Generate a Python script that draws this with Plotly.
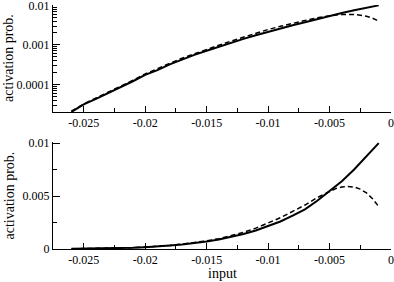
import plotly.graph_objects as go

# data
x_solid = [-0.026, -0.025, -0.024, -0.023, -0.022, -0.021, -0.020, -0.019, -0.018,
           -0.017, -0.016, -0.015, -0.014, -0.013, -0.012, -0.011, -0.010, -0.009,
           -0.008, -0.007, -0.006, -0.005, -0.004, -0.003, -0.002, -0.001]
y_solid = [2.0e-5, 3.1e-5, 4.3e-5, 6.0e-5, 8.3e-5, 1.2e-4, 1.74e-4, 2.3e-4, 3.2e-4,
           4.3e-4, 5.6e-4, 7.1e-4, 9.0e-4, 1.15e-3, 1.42e-3, 1.75e-3, 2.15e-3, 2.6e-3,
           3.15e-3, 3.75e-3, 4.55e-3, 5.45e-3, 6.4e-3, 7.5e-3, 8.7e-3, 1.0e-2]

x_dashed = [-0.026, -0.025, -0.024, -0.023, -0.022, -0.021, -0.020, -0.019, -0.018,
            -0.017, -0.016, -0.015, -0.014, -0.013, -0.012, -0.011, -0.010, -0.009,
            -0.008, -0.007, -0.006, -0.005, -0.0045, -0.004, -0.0035, -0.003, -0.0025,
            -0.002, -0.0015, -0.001]
y_dashed = [2.1e-5, 3.2e-5, 4.5e-5, 6.3e-5, 8.8e-5, 1.27e-4, 1.83e-4, 2.45e-4, 3.4e-4,
            4.6e-4, 6.0e-4, 7.7e-4, 9.8e-4, 1.25e-3, 1.57e-3, 1.97e-3, 2.45e-3, 2.95e-3,
            3.55e-3, 4.15e-3, 4.85e-3, 5.45e-3, 5.7e-3, 5.85e-3, 5.9e-3, 5.85e-3, 5.65e-3,
            5.3e-3, 4.75e-3, 4.0e-3]

x_tickvals = [-0.025, -0.02, -0.015, -0.01, -0.005, 0]
x_ticktext = ["-0.025", "-0.02", "-0.015", "-0.01", "-0.005", "0"]
log_tickvals = [0.0001, 0.001, 0.01]
log_ticktext = ["0.0001", "0.001", "0.01"]
lin_tickvals = [0, 0.005, 0.01]
lin_ticktext = ["0", "0.005", "0.01"]

font = "Liberation Serif"
W, H = 394, 282
l, r, t, b = 53, 3, 5, 33
pw = W - l - r
ph = H - t - b

def py(p):
    return (H - b - p) / ph

def px(p):
    return (p - l) / pw

fig = go.Figure()
for ax in ["", "2"]:
    fig.add_trace(go.Scatter(x=x_solid, y=y_solid, mode="lines",
                             line=dict(color="black", width=2),
                             xaxis="x" + ax, yaxis="y" + ax, showlegend=False))
    fig.add_trace(go.Scatter(x=x_dashed, y=y_dashed, mode="lines",
                             line=dict(color="black", width=1.5, dash="5px,3px"),
                             xaxis="x" + ax, yaxis="y" + ax, showlegend=False))

tf = dict(family=font, size=12, color="black")
xcommon = dict(range=[-0.0275, 0], tickvals=x_tickvals, ticktext=x_ticktext,
               showgrid=False, zeroline=False, showline=True, linecolor="black",
               linewidth=1, ticks="inside", ticklen=6, tickcolor="black",
               tickfont=tf, automargin=False, ticklabeloverflow="allow",
               minor=dict(ticks="inside", ticklen=4, tickcolor="black",
                          tickvals=[-0.0225, -0.0175, -0.0125, -0.0075, -0.0025]))

log_minor = []
for dec in [1e-5, 1e-4, 1e-3]:
    for k in range(2, 10):
        log_minor.append(k * dec)

ycommon = dict(showgrid=False, zeroline=False, showline=True, linecolor="black",
               linewidth=1, ticks="inside", ticklen=7, tickcolor="black",
               tickfont=tf, automargin=False, ticklabeloverflow="allow")

fig.update_layout(
    width=W, height=H,
    margin=dict(l=l, r=r, t=t, b=b),
    paper_bgcolor="white", plot_bgcolor="white",
    font=dict(family=font, size=12, color="black"),
    xaxis=dict(xcommon, domain=[0, 1], anchor="y"),
    xaxis2=dict(xcommon, domain=[0, 1], anchor="y2"),
    yaxis=dict(ycommon, type="log", range=[-4.7, -1.99], domain=[py(112), 1],
               tickvals=log_tickvals, ticktext=log_ticktext,
               minor=dict(ticks="inside", ticklen=4, tickcolor="black", tickvals=log_minor),
               anchor="x"),
    yaxis2=dict(ycommon, range=[0, 0.0101], domain=[0, py(142)],
                tickvals=lin_tickvals, ticktext=lin_ticktext,
                minor=dict(ticks="inside", ticklen=4, tickcolor="black",
                           tickvals=[0.0025, 0.0075]),
                anchor="x2"),
)

title_font = dict(family=font, size=14, color="black")
for yc in [(4 + 112) / 2, (142 + 249) / 2]:
    fig.add_annotation(text="activation prob.", xref="paper", yref="paper",
                       x=px(9), y=py(yc), textangle=-90, showarrow=False,
                       font=title_font, xanchor="center", yanchor="middle")
fig.add_annotation(text="input", xref="paper", yref="paper",
                   x=px(222), y=py(273), showarrow=False,
                   font=title_font, xanchor="center", yanchor="middle")

fig.write_html("out.html", config={"displayModeBar": False},
               post_script="document.body.style.margin='0';")
